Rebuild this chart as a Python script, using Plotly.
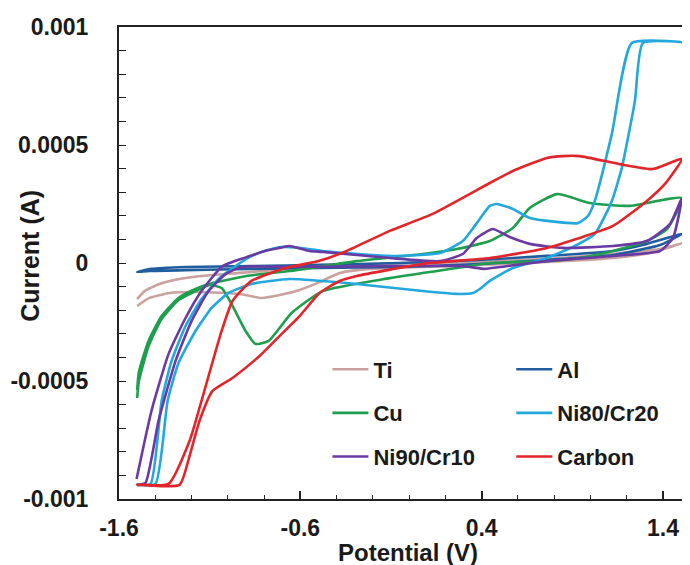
import plotly.graph_objects as go

# ---------------- data (Potential V, Current A) ----------------
# each series: first branch left->right, then the return branch right->left
ti_v = [-1.50, -1.432, -1.321, -1.156, -0.935, -0.814, -0.714, -0.604, -0.494, -0.383, -0.218, 0.058, 0.39, 0.759, 1.124, 1.328, 1.504,
        1.383, 1.124, 0.759, 0.39, 0.058, -0.328, -0.659, -0.935, -1.145, -1.266, -1.377, -1.459, -1.50]
ti_i = [-1.82e-4, -1.48e-4, -1.27e-4, -1.23e-4, -1.31e-4, -1.48e-4, -1.36e-4, -1.14e-4, -0.81e-4, -0.42e-4, -0.25e-4, -0.17e-4, -0.08e-4, 0.04e-4, 0.21e-4, 0.42e-4, 0.83e-4,
        0.59e-4, 0.38e-4, 0.17e-4, 0.04e-4, 0.0, -0.08e-4, -0.25e-4, -0.42e-4, -0.55e-4, -0.68e-4, -0.89e-4, -1.19e-4, -1.53e-4]

al_v = [-1.50, -1.421, -1.233, -0.869, -0.494, -0.052, 0.39, 0.759, 1.124, 1.311, 1.504,
        1.383, 1.124, 0.759, 0.39, -0.052, -0.494, -0.869, -1.233, -1.432, -1.50]
al_i = [-0.38e-4, -0.25e-4, -0.17e-4, -0.13e-4, -0.08e-4, 0.0, 0.13e-4, 0.30e-4, 0.51e-4, 0.81e-4, 1.23e-4,
        0.76e-4, 0.34e-4, 0.13e-4, -0.04e-4, -0.17e-4, -0.21e-4, -0.25e-4, -0.30e-4, -0.34e-4, -0.38e-4]

cu_v = [-1.50, -1.49, -1.437, -1.365, -1.272, -1.178, -1.101, -1.034, -0.979, -0.902, -0.847, -0.775, -0.648, -0.477, -0.107, 0.263, 0.445, 0.759, 0.941, 1.124, 1.311, 1.422, 1.504,
        1.217, 0.997, 0.815, 0.665, 0.572, 0.445, 0.263, 0.075, -0.289, -0.659, -0.896, -1.084, -1.178, -1.272, -1.365, -1.437, -1.49, -1.50]
cu_i = [-5.72e-4, -5.0e-4, -3.52e-4, -2.37e-4, -1.57e-4, -1.19e-4, -0.93e-4, -1.06e-4, -1.74e-4, -2.88e-4, -3.43e-4, -3.30e-4, -2.12e-4, -1.19e-4, -0.64e-4, -0.21e-4, 0.0, 0.08e-4, 0.21e-4, 0.51e-4, 0.93e-4, 1.44e-4, 2.75e-4,
        2.42e-4, 2.54e-4, 2.92e-4, 2.33e-4, 1.48e-4, 0.93e-4, 0.59e-4, 0.38e-4, 0.08e-4, -0.34e-4, -0.55e-4, -0.85e-4, -1.10e-4, -1.48e-4, -2.25e-4, -3.30e-4, -4.6e-4, -5.4e-4]

ni80_v = [-1.50, -1.426, -1.365, -1.310, -1.233, -1.145, -1.051, -0.957, -0.880, -0.780, -0.703, -0.604, -0.477, -0.107, 0.169, 0.296, 0.373, 0.445, 0.483, 0.572, 0.665, 0.930, 0.986, 1.024, 1.118, 1.228, 1.504,
          1.289, 1.245, 1.173, 1.118, 1.024, 0.914, 0.759, 0.572, 0.445, 0.39, 0.351, 0.263, 0.075, -0.289, -0.659, -0.869, -0.996, -1.090, -1.178, -1.272, -1.332, -1.399, -1.50]
ni80_i = [-9.4e-4, -9.36e-4, -5.85e-4, -4.15e-4, -2.67e-4, -1.53e-4, -0.68e-4, -0.13e-4, 0.25e-4, 0.55e-4, 0.68e-4, 0.64e-4, 0.51e-4, 0.30e-4, 0.42e-4, 0.93e-4, 1.69e-4, 2.42e-4, 2.50e-4, 2.29e-4, 1.91e-4, 1.69e-4, 1.99e-4, 2.63e-4, 5.47e-4, 9.32e-4, 9.36e-4,
          9.32e-4, 6.86e-4, 4.03e-4, 2.63e-4, 1.23e-4, 0.72e-4, 0.21e-4, -0.21e-4, -0.76e-4, -1.10e-4, -1.27e-4, -1.31e-4, -1.19e-4, -0.89e-4, -0.68e-4, -0.89e-4, -1.27e-4, -1.91e-4, -2.88e-4, -4.24e-4, -5.85e-4, -9.36e-4, -9.4e-4]

ni90_v = [-1.503, -1.421, -1.327, -1.233, -1.145, -1.029, -0.896, -0.797, -0.714, -0.659, -0.549, -0.477, -0.107, 0.169, 0.296, 0.373, 0.461, 0.555, 0.665, 0.848, 1.124, 1.311, 1.438, 1.504,
          1.455, 1.383, 1.124, 0.759, 0.50, 0.417, 0.334, 0.263, -0.107, -0.659, -0.924, -1.012, -1.106, -1.200, -1.288, -1.382, -1.454, -1.50]
ni90_i = [-9.15e-4, -6.27e-4, -3.86e-4, -2.33e-4, -1.19e-4, -0.13e-4, 0.25e-4, 0.51e-4, 0.64e-4, 0.72e-4, 0.51e-4, 0.47e-4, 0.21e-4, 0.08e-4, 0.38e-4, 1.06e-4, 1.44e-4, 1.10e-4, 0.81e-4, 0.64e-4, 0.72e-4, 0.93e-4, 1.65e-4, 2.75e-4,
          1.06e-4, 0.51e-4, 0.30e-4, 0.08e-4, -0.17e-4, -0.25e-4, -0.17e-4, -0.13e-4, -0.13e-4, -0.17e-4, -0.17e-4, -0.47e-4, -1.19e-4, -2.46e-4, -4.15e-4, -6.69e-4, -9.32e-4, -9.4e-4]

carbon_v = [-1.50, -1.266, -1.211, -1.156, -1.084, -0.974, -0.825, -0.714, -0.604, -0.494, -0.383, -0.289, 0.075, 0.445, 0.759, 1.124, 1.311, 1.411, 1.504,
            1.344, 1.162, 0.941, 0.848, 0.759, 0.572, 0.445, 0.130, -0.107, -0.344, -0.499, -0.681, -0.869, -0.974, -1.034, -1.156, -1.211, -1.327, -1.50]
carbon_i = [-9.4e-4, -9.4e-4, -8.18e-4, -6.69e-4, -5.42e-4, -4.87e-4, -3.94e-4, -3.09e-4, -2.25e-4, -1.27e-4, -0.76e-4, -0.55e-4, -0.04e-4, 0.21e-4, 0.64e-4, 1.57e-4, 2.63e-4, 3.35e-4, 4.41e-4,
            3.98e-4, 4.19e-4, 4.53e-4, 4.53e-4, 4.45e-4, 3.90e-4, 3.39e-4, 2.08e-4, 1.36e-4, 0.51e-4, 0.08e-4, -0.21e-4, -0.76e-4, -1.61e-4, -2.88e-4, -6.14e-4, -7.54e-4, -9.36e-4, -9.4e-4]

names = ["Ti", "Al", "Cu", "Ni80/Cr20", "Ni90/Cr10", "Carbon"]
xs = [ti_v, al_v, cu_v, ni80_v, ni90_v, carbon_v]
ys = [ti_i, al_i, cu_i, ni80_i, ni90_i, carbon_i]
colors = ["#c9a19e", "#1f5d9e", "#1f9e4e", "#22a8dc", "#6a3aa4", "#e2252b"]
legend_of = ["legend", "legend2", "legend", "legend2", "legend", "legend2"]

x_major = [-1.6, -0.6, 0.4, 1.4]
x_major_text = ["-1.6", "-0.6", "0.4", "1.4"]
x_minor = [-1.6 + 0.2 * k for k in range(17)]
y_major = [-0.001, -0.0005, 0, 0.0005, 0.001]
y_major_text = ["-0.001", "-0.0005", "0", "0.0005", "0.001"]
y_minor = [-0.001 + 0.0001 * k for k in range(21)]

FONT = "Liberation Sans, Arial, sans-serif"

fig = go.Figure()
for n, x, y, c, lg in zip(names, xs, ys, colors, legend_of):
    fig.add_trace(go.Scatter(x=x, y=y, mode="lines", name=n, legend=lg, legendgroup=n,
                             line=dict(color=c, width=2.6, shape="spline", smoothing=0.5)))

legend_common = dict(font=dict(family=FONT, size=22, color="#1a1a1a", weight="bold"),
                     bgcolor="rgba(0,0,0,0)", tracegroupgap=12, itemwidth=36,
                     xanchor="left", yanchor="top", traceorder="grouped")
# the page body adds an 8px offset, so the figure is 8px smaller and margins 8px less
fig.update_layout(
    width=682, height=557,
    margin=dict(l=111, r=0, t=19, b=66),
    paper_bgcolor="white", plot_bgcolor="white",
    legend=dict(x=0.365, y=0.319, **legend_common),
    legend2=dict(x=0.687, y=0.319, **legend_common),
    xaxis=dict(range=[-1.6, 1.549], tickmode="array", tickvals=x_major, ticktext=x_major_text,
               ticks="inside", ticklen=8, tickwidth=1.5, tickcolor="#222",
               minor=dict(tickmode="array", tickvals=x_minor, ticks="inside", ticklen=4, tickwidth=1.2, tickcolor="#222"),
               showline=True, linecolor="#222", linewidth=2, mirror=True,
               showgrid=False, zeroline=False, ticklabelstandoff=7,
               tickfont=dict(family=FONT, size=23, color="#1a1a1a", weight="bold")),
    yaxis=dict(range=[-0.001, 0.001], tickmode="array", tickvals=y_major, ticktext=y_major_text,
               ticks="inside", ticklen=7, tickwidth=1.2, tickcolor="#222",
               minor=dict(tickmode="array", tickvals=y_minor, ticks="inside", ticklen=7, tickwidth=1.2, tickcolor="#222"),
               showline=True, linecolor="#222", linewidth=2, mirror=False,
               showgrid=False, zeroline=False, ticklabelstandoff=24,
               tickfont=dict(family=FONT, size=23, color="#1a1a1a", weight="bold")),
    annotations=[
        dict(text="Potential (V)", xref="paper", yref="paper", x=0.506, y=-0.114, xanchor="center", yanchor="middle",
             showarrow=False, font=dict(family=FONT, size=24, color="#1a1a1a", weight="bold")),
        dict(text="Current (A)", xref="paper", yref="paper", x=-0.156, y=0.515, xanchor="center", yanchor="middle",
             textangle=-90, showarrow=False, font=dict(family=FONT, size=25, color="#1a1a1a", weight="bold")),
    ],
)
fig.write_html("out.html")
